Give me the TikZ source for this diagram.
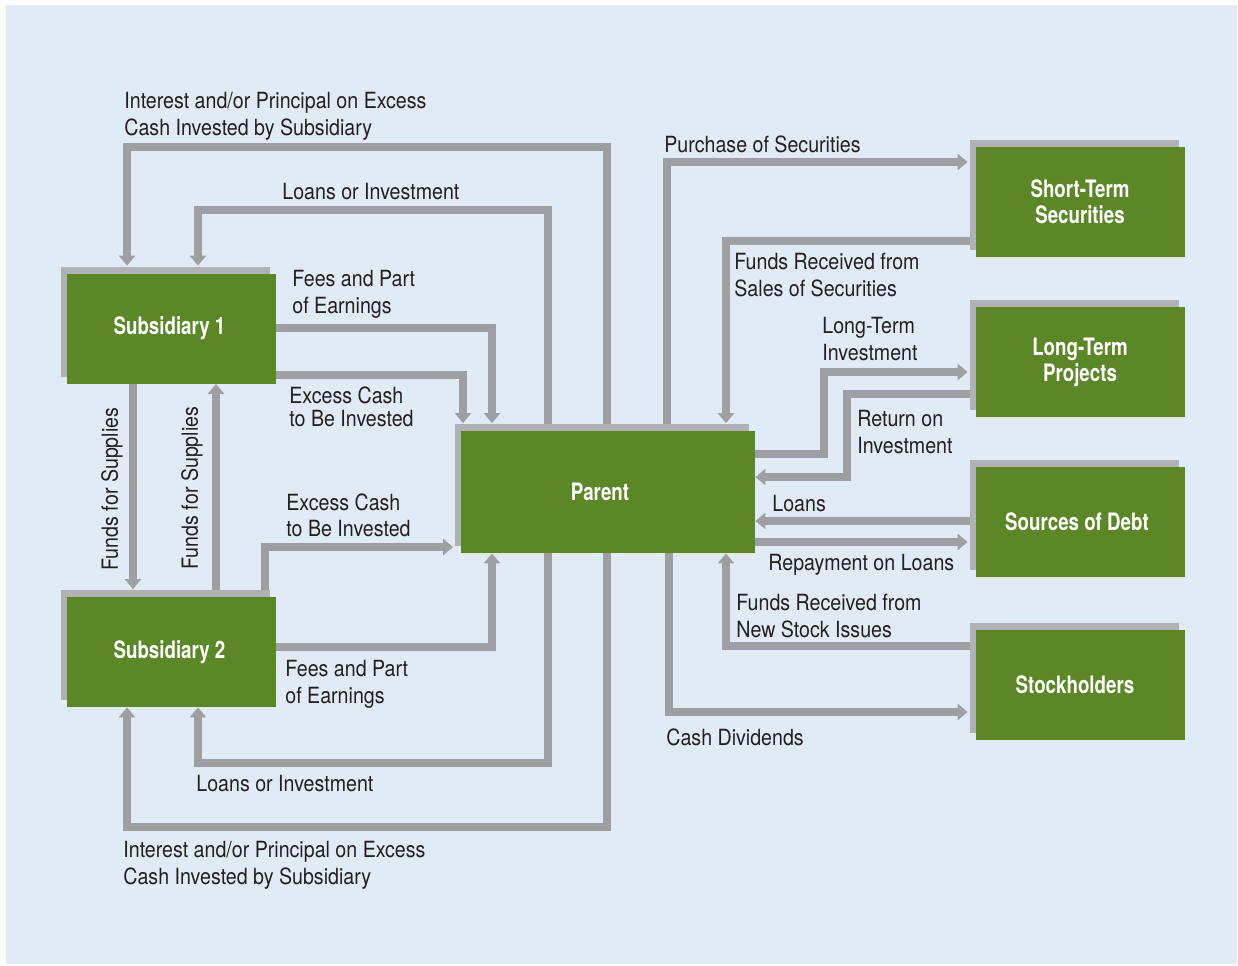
\documentclass[tikz,border=0pt]{standalone}
\usepackage{fontspec}
\setmainfont{TeX Gyre Heros}[FakeStretch=0.88]
\newfontfamily\boxfont{TeX Gyre Heros}[FakeStretch=0.78]
\usetikzlibrary{arrows.meta,shadows}

\definecolor{bgblue}{HTML}{E1EBF6}
\definecolor{boxgreen}{HTML}{5C8727}
\definecolor{flowgray}{HTML}{9E9FA3}
\definecolor{shadowgray}{HTML}{B1B2B6}
\definecolor{textdark}{HTML}{231F20}

\pgfdeclarelayer{bg}
\pgfdeclarelayer{lines}
\pgfsetlayers{bg,lines,main}

\begin{document}
\begin{tikzpicture}[
  x=0.5pt, y=-0.5pt,
  line join=miter,
  box/.style={fill=boxgreen, text=white, align=center, inner sep=0pt,
    font=\boxfont\bfseries\fontsize{12}{13}\selectfont,
    minimum width=104.5pt, minimum height=55pt,
    drop shadow={shadow xshift=-3pt, shadow yshift=3.5pt, fill=shadowgray, opacity=1}},
  flow/.style={draw=flowgray, line width=3.6pt, -{Triangle[width=8pt,length=5pt]}},
  toedge/.style={shorten >=3.75pt},
  lbl/.style={anchor=north west, inner sep=0pt, align=left, text=textdark,
    font=\fontsize{11.15}{13.3}\selectfont},
  sidelbl/.style={rotate=90, inner sep=0pt, text=textdark,
    font=\fontsize{11.15}{13.3}\selectfont}
]
  \useasboundingbox (0,0) rectangle (1238,965);
  \begin{pgfonlayer}{bg}
    \fill[white] (0,0) rectangle (1238,965);
    \fill[bgblue] (6,5) rectangle (1237,964);
  \end{pgfonlayer}

  % boxes
  \node[box] (sub1) at (171.5,328.5) {Subsidiary 1\hspace*{2pt}};
  \node[box] (sub2) at (171.5,652) {Subsidiary 2\hspace*{2pt}};
  \node[box, minimum width=147pt, minimum height=61pt] (parent) at (608,492) {Parent\hspace*{8pt}};
  \node[box] (sts) at (1080,202) {Short-Term\\Securities};
  \node[box] (ltp) at (1080,362) {Long-Term\\Projects};
  \node[box] (debt) at (1080,522) {Sources of Debt\hspace*{3pt}};
  \node[box] (stock) at (1080,685) {Stockholders\hspace*{5pt}};

  % flows
  \begin{pgfonlayer}{lines}
    \draw[flow,toedge] (parent.north -| 607,0) |- (127,147) -- (sub1.north -| 127,0);
    \draw[flow,toedge] (parent.north -| 548,0) |- (198,210) -- (sub1.north -| 198,0);
    \draw[flow,toedge] (sub1.east |- 0,328) -| (parent.north -| 492,0);
    \draw[flow,toedge] (sub1.east |- 0,375) -| (parent.north -| 463,0);
    \draw[flow,toedge] (sub1.south -| 133,0) -- (sub2.north -| 133,0);
    \draw[flow] (sub2.north -| 216,0) -- (sub1.south -| 216,0);
    \draw[flow,toedge] (sub2.north -| 265,0) |- (parent.west |- 0,547);
    \draw[flow] (sub2.east |- 0,647) -| (parent.south -| 492,0);
    \draw[flow] (parent.south -| 548,0) |- (198,763) -- (sub2.south -| 198,0);
    \draw[flow] (parent.south -| 607,0) |- (127,827) -- (sub2.south -| 127,0);

    \draw[flow,toedge] (parent.north -| 667,0) |- (sts.west |- 0,162);
    \draw[flow,toedge] (sts.west |- 0,241) -| (parent.north -| 726,0);
    \draw[flow,toedge] (parent.east |- 0,454) -| (824,372) -- (ltp.west |- 0,372);
    \draw[flow] (ltp.west |- 0,394) -| (847,477) -- (parent.east |- 0,477);
    \draw[flow] (debt.west |- 0,521) -- (parent.east |- 0,521);
    \draw[flow,toedge] (parent.east |- 0,542) -- (debt.west |- 0,542);
    \draw[flow] (stock.west |- 0,646) -| (parent.south -| 726,0);
    \draw[flow,toedge] (parent.south -| 669,0) |- (stock.west |- 0,712);
  \end{pgfonlayer}

  % labels
  \node[lbl] (intTop) at (124,92) {Interest and/or Principal on Excess\\Cash Invested by Subsidiary};
  \node[lbl] (loanTop) at (282,183) {Loans or Investment};
  \node[lbl] (feesOne) at (292,270) {Fees and Part\\of Earnings};
  \node[lbl, font=\fontsize{11.15}{11.6}\selectfont] (cashOne) at (289,386) {Excess Cash\\to Be Invested};
  \node[lbl] (cashTwo) at (286,493) {Excess Cash\\to Be Invested};
  \node[lbl] (feesTwo) at (285,660) {Fees and Part\\of Earnings};
  \node[lbl] (loanBot) at (196,775) {Loans or Investment};
  \node[lbl] (intBot) at (123,841) {Interest and/or Principal on Excess\\Cash Invested by Subsidiary};
  \node[sidelbl] (supOne) at (112,489) {Funds for Supplies};
  \node[sidelbl] (supTwo) at (192,488) {Funds for Supplies};

  \node[lbl] (buySec) at (664,135) {Purchase of Securities};
  \node[lbl] (sellSec) at (734,253) {Funds Received from\\Sales of Securities};
  \node[lbl] (ltInv) at (822,317) {Long-Term\\Investment};
  \node[lbl] (retInv) at (857,410) {Return on\\Investment};
  \node[lbl] (loans) at (772,495) {Loans};
  \node[lbl] (repay) at (768,554) {Repayment on Loans};
  \node[lbl] (newStock) at (736,594) {Funds Received from\\New Stock Issues};
  \node[lbl] (divs) at (666,728) {Cash Dividends};
\end{tikzpicture}
\end{document}
